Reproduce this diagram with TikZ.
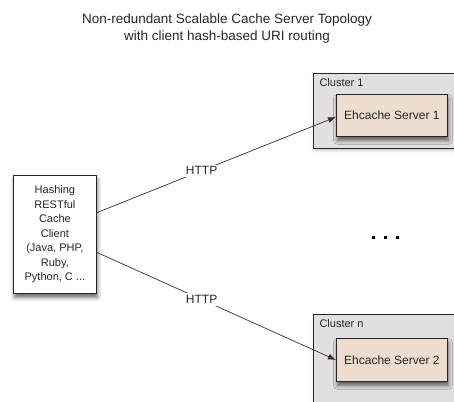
\documentclass[tikz,border=0pt]{standalone}
\usepackage{fontspec}
\setmainfont{Liberation Sans}
\usetikzlibrary{shadows.blur,arrows.meta}
\definecolor{clusterfill}{RGB}{226,224,222}
\definecolor{serverfill}{RGB}{236,221,206}
\tikzset{
  cluster/.style={draw=black!85, line width=0.8pt, fill=clusterfill, inner sep=0pt,
    blur shadow={shadow xshift=1pt, shadow yshift=-2pt, shadow blur radius=3pt, shadow opacity=25}},
  server/.style={draw=black!85, line width=0.8pt, fill=serverfill, inner sep=0pt,
    blur shadow={shadow xshift=1pt, shadow yshift=-4pt, shadow blur radius=4pt, shadow opacity=60}},
  client/.style={draw=black!85, line width=0.8pt, fill=white, inner sep=0pt,
    blur shadow={shadow xshift=1pt, shadow yshift=-4pt, shadow blur radius=4pt, shadow opacity=60}},
  label/.style={font=\fontsize{12}{14}\selectfont, text=black!85},
  conn/.style={line width=0.7pt, draw=black!80, -{Latex[length=8pt,width=6pt]}},
  lbl/.style={fill=white, inner sep=2pt, font=\fontsize{12}{14}\selectfont, text=black!85},
}
\begin{document}
\begin{tikzpicture}[x=1pt,y=-1pt]
\useasboundingbox (0,0) rectangle (454,401);
\clip (0,0) rectangle (454,401);
% title
\node[label, align=center, font=\fontsize{13.5}{17}\selectfont] (title) at (227,28.5)
  {Non-redundant Scalable Cache Server Topology\\with client hash-based URI routing};
% clusters
\node[cluster, minimum width=150pt, minimum height=75pt, anchor=north west] (c1) at (313,73) {};
\node[label, anchor=north west, font=\fontsize{11}{13}\selectfont] (c1l) at (316,75) {Cluster 1};
\node[cluster, minimum width=150pt, minimum height=100pt, anchor=north west] (cn) at (313,314) {};
\node[label, anchor=north west, font=\fontsize{11}{13}\selectfont] (cnl) at (316,316) {Cluster n};
% servers
\node[server, minimum width=111pt, minimum height=42pt, anchor=north west, label] (s1) at (336,94) {Ehcache Server 1};
\node[server, minimum width=111pt, minimum height=43pt, anchor=north west, label] (s2) at (336,338) {Ehcache Server 2};
% client
\node[client, minimum width=83pt, minimum height=118pt, anchor=north west] (cl) at (13,175) {};
\node[label, align=center, font=\fontsize{11}{14.5}\selectfont] (clt) at (cl.center)
  {Hashing\\RESTful\\Cache\\Client\\(Java, PHP,\\Ruby,\\Python, C ...};
% connectors
\coordinate (a1) at (96,213);
\coordinate (a2) at (96,252);
\draw[conn] (a1) -- node[lbl, pos=0.44] (h1) {HTTP} (s1.west |- 0,117);
\draw[conn] (a2) -- node[lbl, pos=0.44] (h2) {HTTP} (s2.west |- 0,360);
% dots
\node[inner sep=0pt] (dots) at (385,237) {%
  \tikz[x=1pt,y=1pt]{\fill (0,0) rectangle (3,3); \fill (12,0) rectangle (15,3); \fill (24,0) rectangle (27,3);}};
\end{tikzpicture}
\end{document}
